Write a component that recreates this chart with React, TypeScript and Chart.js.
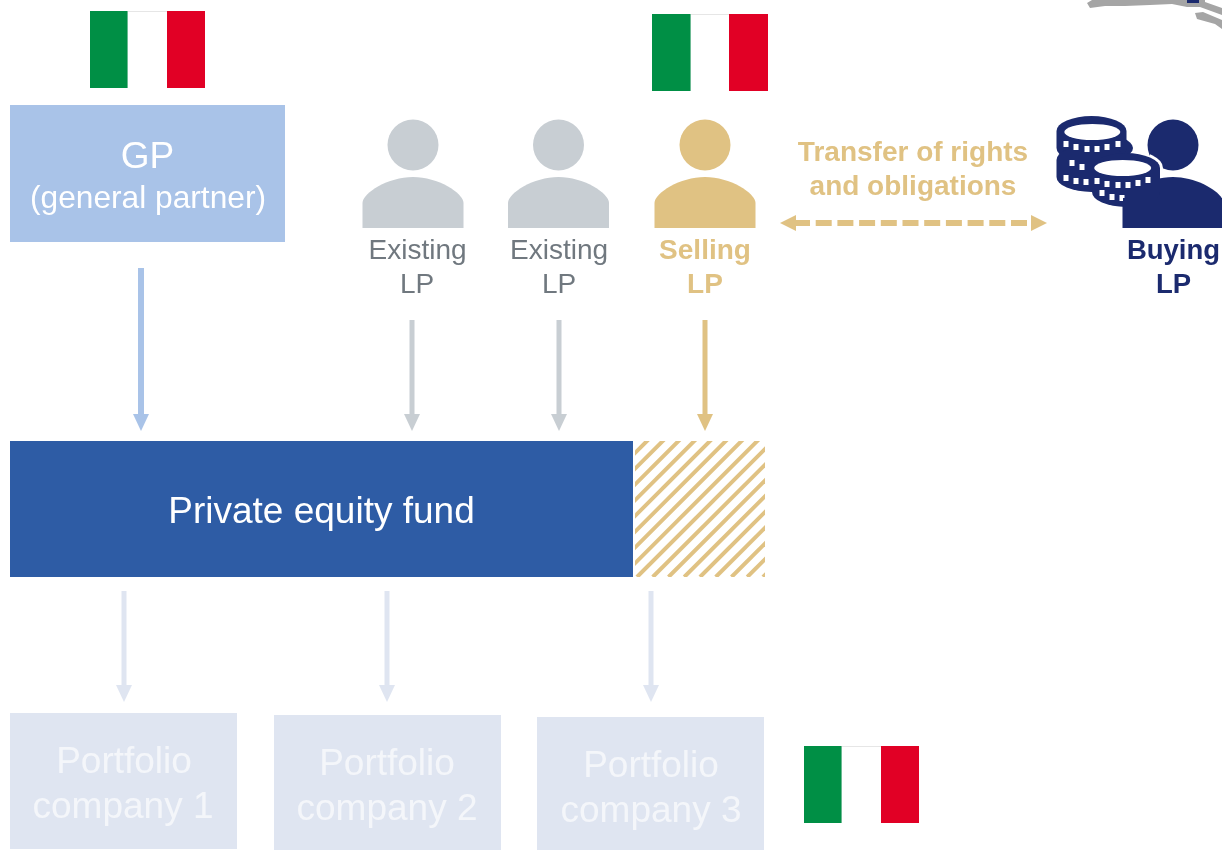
import React, { useEffect, useRef } from "react";
import { Chart, registerables } from "chart.js";

Chart.register(...registerables);

const FONT = '"Liberation Sans", Arial, sans-serif';
const BLUE_LIGHT = "#a9c3e8", BLUE = "#2e5ca5", PALE = "#dfe5f1", GREY = "#c8ced3", GREY_TEXT = "#70787f", GOLD = "#e0c283", NAVY = "#1b2a6e";
const PALE_TEXT = "#f4f6fa";

// Flags: left, top, width
const flags = [[90, 11, 115], [652, 14, 116], [804, 746, 115]];
// Boxes: x0, y0, x1, y1, colour
const boxes: [number, number, number, number, string][] = [
  [10, 105, 285, 242, BLUE_LIGHT],
  [10, 441, 633, 577, BLUE],
  [10, 713, 237, 849, PALE],
  [274, 715, 501, 850, PALE],
  [537, 717, 764, 850, PALE],
];
// Arrows: x, y0, y1, colour, width
const arrows: [number, number, number, string, number][] = [
  [141, 268, 431, BLUE_LIGHT, 6],
  [412, 320, 431, GREY, 5],
  [559, 320, 431, GREY, 5],
  [705, 320, 431, GOLD, 5],
  [124, 591, 702, PALE, 5],
  [387, 591, 702, PALE, 5],
  [651, 591, 702, PALE, 5],
];
// People: centre x, colour
const people: [number, string][] = [[413, GREY], [558.5, GREY], [705, GOLD], [1173, NAVY]];
// Labels: text, x, y, size, bold, colour
const labels: [string, number, number, number, boolean, string][] = [
  ["GP", 147.5, 158, 37, false, "#ffffff"],
  ["(general partner)", 148, 199, 31.7, false, "#ffffff"],
  ["Existing", 417.5, 251, 28, false, GREY_TEXT],
  ["LP", 417, 285, 28, false, GREY_TEXT],
  ["Existing", 559, 251, 28, false, GREY_TEXT],
  ["LP", 559, 285, 28, false, GREY_TEXT],
  ["Selling", 705, 251, 28, true, GOLD],
  ["LP", 705, 285, 28, true, GOLD],
  ["Transfer of rights", 913, 153, 28, true, GOLD],
  ["and obligations", 913, 187, 28, true, GOLD],
  ["Buying", 1173.5, 251, 27.5, true, NAVY],
  ["LP", 1173.5, 285, 27.5, true, NAVY],
  ["Private equity fund", 321.5, 513, 37, false, "#ffffff"],
  ["Portfolio", 124, 763, 37, false, PALE_TEXT],
  ["company 1", 123, 808, 37, false, PALE_TEXT],
  ["Portfolio", 387, 765, 37, false, PALE_TEXT],
  ["company 2", 387, 810, 37, false, PALE_TEXT],
  ["Portfolio", 651, 767, 37, false, PALE_TEXT],
  ["company 3", 651, 812, 37, false, PALE_TEXT],
];
const transfer = { x0: 780, x1: 1047, y: 223 };
const hatch = { x0: 635, y0: 441, x1: 765, y1: 577 };
const brushPatches: [number, number][][] = [
  [[1092, 0], [1087, 3], [1090, 8], [1105, 6], [1125, 6], [1150, 5], [1172, 4], [1187, 7], [1200, 7], [1222, 15], [1222, 8], [1205, 2], [1205, 0]],
  [[1195, 13], [1203, 12], [1222, 20], [1222, 29], [1215, 24], [1197, 19]],
];
// Coin tick marks: x, y
const rearTicks: [number, number][] = [
  [1066, 144], [1076, 147], [1087, 149], [1097, 149], [1107, 147], [1118, 144],
  [1072, 163], [1082, 167], [1066, 178], [1076, 181], [1086, 182],
];
const frontTicks: [number, number][] = [
  [1097, 181], [1107, 184], [1118, 185], [1128, 185], [1138, 183], [1148, 180],
  [1102, 193], [1112, 197], [1122, 198],
];

const diagram = {
  id: "diagram",
  beforeDatasetsDraw(chart: any) {
    const { ctx, scales } = chart;
    const X = (v: number) => scales.x.getPixelForValue(v);
    const Y = (v: number) => scales.y.getPixelForValue(v);
    const rect = (x0: number, y0: number, x1: number, y1: number, c: string) => {
      ctx.fillStyle = c;
      ctx.fillRect(X(x0), Y(y0), X(x1) - X(x0), Y(y1) - Y(y0));
    };
    ctx.save();
    for (const [x, y, w] of flags) {
      const a = Math.round(x + w / 3), b = Math.round(x + (2 * w) / 3);
      rect(x, y, a - 1, y + 77, "#008f45");
      rect(a - 1, y, a, y + 77, "#6cba93");
      rect(a, y, b, y + 1, "#e6e6e6");
      rect(b, y, x + w, y + 77, "#e10025");
    }
    for (const b of boxes) rect(...b);

    // hatch
    ctx.save();
    ctx.beginPath();
    ctx.rect(X(hatch.x0), Y(hatch.y0), hatch.x1 - hatch.x0, hatch.y1 - hatch.y0);
    ctx.clip();
    ctx.strokeStyle = GOLD;
    ctx.lineWidth = 4;
    for (let n = -10; n < 20; n++) {
      const k = hatch.x0 + 2 + n * 15.75;
      ctx.beginPath();
      ctx.moveTo(X(k), Y(hatch.y1));
      ctx.lineTo(X(k + 140), Y(hatch.y1 - 140));
      ctx.stroke();
    }
    ctx.restore();

    // brush
    ctx.fillStyle = "#a5a5a5";
    for (const p of brushPatches) {
      ctx.beginPath();
      p.forEach(([a, b], i) => (i ? ctx.lineTo(X(a), Y(b)) : ctx.moveTo(X(a), Y(b))));
      ctx.closePath();
      ctx.fill();
    }
    rect(1187, 0, 1199, 3, NAVY);

    const coin = (cx: number, cy: number, h: number, rx: number, ry: number) => {
      ctx.fillStyle = NAVY;
      ctx.beginPath();
      ctx.ellipse(X(cx), Y(cy), rx, ry, 0, Math.PI, 0);
      ctx.lineTo(X(cx + rx), Y(cy + h));
      ctx.ellipse(X(cx), Y(cy + h), rx, ry, 0, 0, Math.PI);
      ctx.closePath();
      ctx.fill();
    };
    const hole = (cx: number, cy: number, rx: number, ry: number) => {
      ctx.fillStyle = "#ffffff";
      ctx.beginPath();
      ctx.ellipse(X(cx), Y(cy), rx, ry, 0, 0, Math.PI * 2);
      ctx.fill();
    };
    const ticks = (list: [number, number][]) => {
      ctx.fillStyle = "#ffffff";
      for (const [a, b] of list) ctx.fillRect(X(a) - 2.5, Y(b) - 3, 5, 6);
    };

    // rear stack
    coin(1098, 148, 0, 35, 14);
    coin(1091.5, 131, 17, 35, 15);
    coin(1091.5, 160, 17, 35, 15);
    ticks(rearTicks);
    hole(1092.3, 132, 28, 8);

    // people
    for (const [cx, c] of people) {
      ctx.fillStyle = c;
      ctx.beginPath();
      ctx.arc(X(cx), Y(145), 25.5, 0, Math.PI * 2);
      ctx.fill();
      ctx.beginPath();
      ctx.moveTo(X(cx - 50.5), Y(228));
      ctx.lineTo(X(cx - 50.5), Y(203));
      ctx.bezierCurveTo(X(cx - 50.5), Y(193), X(cx - 25), Y(177), X(cx), Y(177));
      ctx.bezierCurveTo(X(cx + 25), Y(177), X(cx + 50.5), Y(193), X(cx + 50.5), Y(203));
      ctx.lineTo(X(cx + 50.5), Y(228));
      ctx.closePath();
      ctx.fill();
    }

    // front stack, with the white gap it leaves on the navy figure
    ctx.save();
    ctx.beginPath();
    ctx.rect(X(1150), Y(150), 30, 30);
    ctx.clip();
    hole(1126, 168, 37, 18);
    ctx.restore();
    coin(1126, 168, 24, 34, 15);
    ticks(frontTicks);
    hole(1122.7, 168, 28.5, 8);
    rect(1123, 198, 1222, 228, NAVY);
    ctx.restore();
  },
  afterDatasetsDraw(chart: any) {
    const { ctx, scales } = chart;
    const X = (v: number) => scales.x.getPixelForValue(v);
    const Y = (v: number) => scales.y.getPixelForValue(v);
    const tri = (p: [number, number][], c: string) => {
      ctx.fillStyle = c;
      ctx.beginPath();
      p.forEach(([a, b], i) => (i ? ctx.lineTo(X(a), Y(b)) : ctx.moveTo(X(a), Y(b))));
      ctx.closePath();
      ctx.fill();
    };
    ctx.save();
    for (const [x, , y1, c] of arrows) tri([[x - 8, y1 - 17], [x + 8, y1 - 17], [x, y1]], c);
    const { x0, x1, y } = transfer;
    tri([[x0, y], [x0 + 16, y - 8], [x0 + 16, y + 8]], GOLD);
    tri([[x1, y], [x1 - 16, y - 8], [x1 - 16, y + 8]], GOLD);
    ctx.textAlign = "center";
    ctx.textBaseline = "middle";
    for (const [t, x, yy, s, b, c] of labels) {
      ctx.font = `${b ? "bold " : ""}${s}px ${FONT}`;
      ctx.fillStyle = c;
      ctx.fillText(t, X(x), Y(yy));
    }
    ctx.restore();
  },
};

export default function App() {
  const ref = useRef<HTMLCanvasElement>(null);
  useEffect(() => {
    document.body.style.margin = "0";
    document.body.style.background = "#ffffff";
    const shafts = arrows.map(([x, y0, y1, c, w]) => ({
      data: [{ x, y: y0 }, { x, y: y1 - 12 }],
      borderColor: c,
      borderWidth: w,
      pointRadius: 0,
    }));
    const chart = new Chart(ref.current!, {
      type: "line",
      data: {
        datasets: [
          ...shafts,
          {
            data: [{ x: transfer.x0 + 14, y: transfer.y }, { x: transfer.x1 - 14, y: transfer.y }],
            borderColor: GOLD,
            borderWidth: 6,
            borderDash: [16, 5.7],
            pointRadius: 0,
          },
        ],
      },
      options: {
        animation: false,
        responsive: false,
        layout: { padding: 0 },
        plugins: { legend: { display: false }, tooltip: { enabled: false } },
        scales: {
          x: { type: "linear", min: 0, max: 1222, display: false },
          y: { type: "linear", min: 0, max: 850, reverse: true, display: false },
        },
      },
      plugins: [diagram],
    } as any);
    return () => chart.destroy();
  }, []);
  return <canvas ref={ref} width={1222} height={850} style={{ display: "block" }} />;
}
